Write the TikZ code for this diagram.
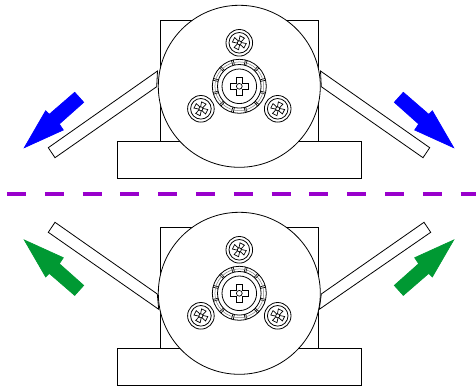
\documentclass[tikz,border=0pt]{standalone}
\definecolor{dashpurple}{RGB}{153,0,204}
\definecolor{armblue}{RGB}{0,0,255}
\definecolor{armgreen}{RGB}{0,153,51}
\tikzset{
  part/.style={draw=black,line width=0.8pt,fill=white},
  fine/.style={draw=black,line width=0.7pt,fill=white},
  pics/screw/.style={code={
    \draw[part] (0,0) circle (13.3);
    \draw[part] (0,0) circle (10.3);
    \draw[fine,rotate=-27] (-1,-1) -- (-2.5,-6.5) -- (2.5,-6.5) -- (1,-1) -- (6.5,-2.5) -- (6.5,2.5) -- (1,1) -- (2.5,6.5) -- (-2.5,6.5) -- (-1,1) -- (-6.5,2.5) -- (-6.5,-2.5) -- cycle;
    \draw[fine] (0,0) circle (2);
  }},
  pics/disc/.style={code={
    \draw[part] (0,0) circle (81);
    \pic at (0,-43.5) {screw};
    \pic at (-38.4,22.5) {screw};
    \pic at (38.4,22.5) {screw};
    \draw[part] (0,0) circle (27);
    \draw[part] (0,0) circle (21.8);
    \foreach \a in {0,30,...,330} {
      \draw[line width=0.7pt] (\a+13:21.8) -- (\a+13:27);
      \draw[line width=0.7pt] (\a+17:21.8) -- (\a+17:27);
    }
    \draw[line width=0.5pt,gray] (0,0) circle (24.4);
    \draw[part] (0,0) circle (17.3);
    \draw[fine] (-3.2,-3.2) -- (-3.2,-8.8) -- (3.2,-8.8) -- (3.2,-3.2) -- (8.8,-3.2) -- (8.8,3.2) -- (3.2,3.2) -- (3.2,8.8) -- (-3.2,8.8) -- (-3.2,3.2) -- (-8.8,3.2) -- (-8.8,-3.2) -- cycle;
    \draw[fine] (0,0) circle (2.9);
  }}
}
\newcommand{\armshape}{(74.7,92.3) -- (83.7,102.3) -- (59.3,124) -- (63.3,130) -- (24.3,147.7) -- (45.7,110.7) -- (49.3,114.3) -- cycle}
\begin{document}
\begin{tikzpicture}[x=1pt,y=-1pt]
\useasboundingbox (0,0) rectangle (476,387);
\coordinate (top) at (239.3,86.3);
\coordinate (bot) at (239.3,293.3);
% top unit
\begin{scope}[shift={(top)}]
  \draw[part] (-79.3,-66.3) rectangle (78.7,54.7);
  \draw[part] (-122.3,54.7) rectangle (121.7,91.7);
  \draw[part] (-81.8,-15.3) -- (-191,61.4) -- (-184.3,71.4) -- (-82.6,0.4) -- cycle;
  \draw[part] (81.2,-15.3) -- (190.4,61.4) -- (183.7,71.4) -- (82,0.4) -- cycle;
\end{scope}
\pic at (top) {disc};
% bottom unit
\begin{scope}[shift={(bot)}]
  \draw[part] (-79.3,-66.3) rectangle (78.7,54.7);
  \draw[part] (-122.3,54.7) rectangle (121.7,91.7);
  \draw[part] (-82,0.7) -- (-184.3,-71) -- (-191,-61) -- (-80.6,16) -- cycle;
  \draw[part] (82,0.7) -- (184.7,-71) -- (191.4,-61) -- (80,16) -- cycle;
\end{scope}
\pic at (bot) {disc};
% arrows
\filldraw[armblue,line width=0.7pt] \armshape;
\begin{scope}[shift={(478,0)},xscale=-1]\filldraw[armblue,line width=0.7pt] \armshape;\end{scope}
\begin{scope}[shift={(0,387.7)},yscale=-1]\filldraw[armgreen,line width=0.7pt] \armshape;\end{scope}
\begin{scope}[shift={(478,387.7)},xscale=-1,yscale=-1]\filldraw[armgreen,line width=0.7pt] \armshape;\end{scope}
% dashed line
\coordinate (dl) at (7,194);
\coordinate (dr) at (476,194);
\draw[dashpurple,line width=3.4pt,dash pattern=on 19pt off 18.8pt] (dl) -- (dr);
\end{tikzpicture}
\end{document}
